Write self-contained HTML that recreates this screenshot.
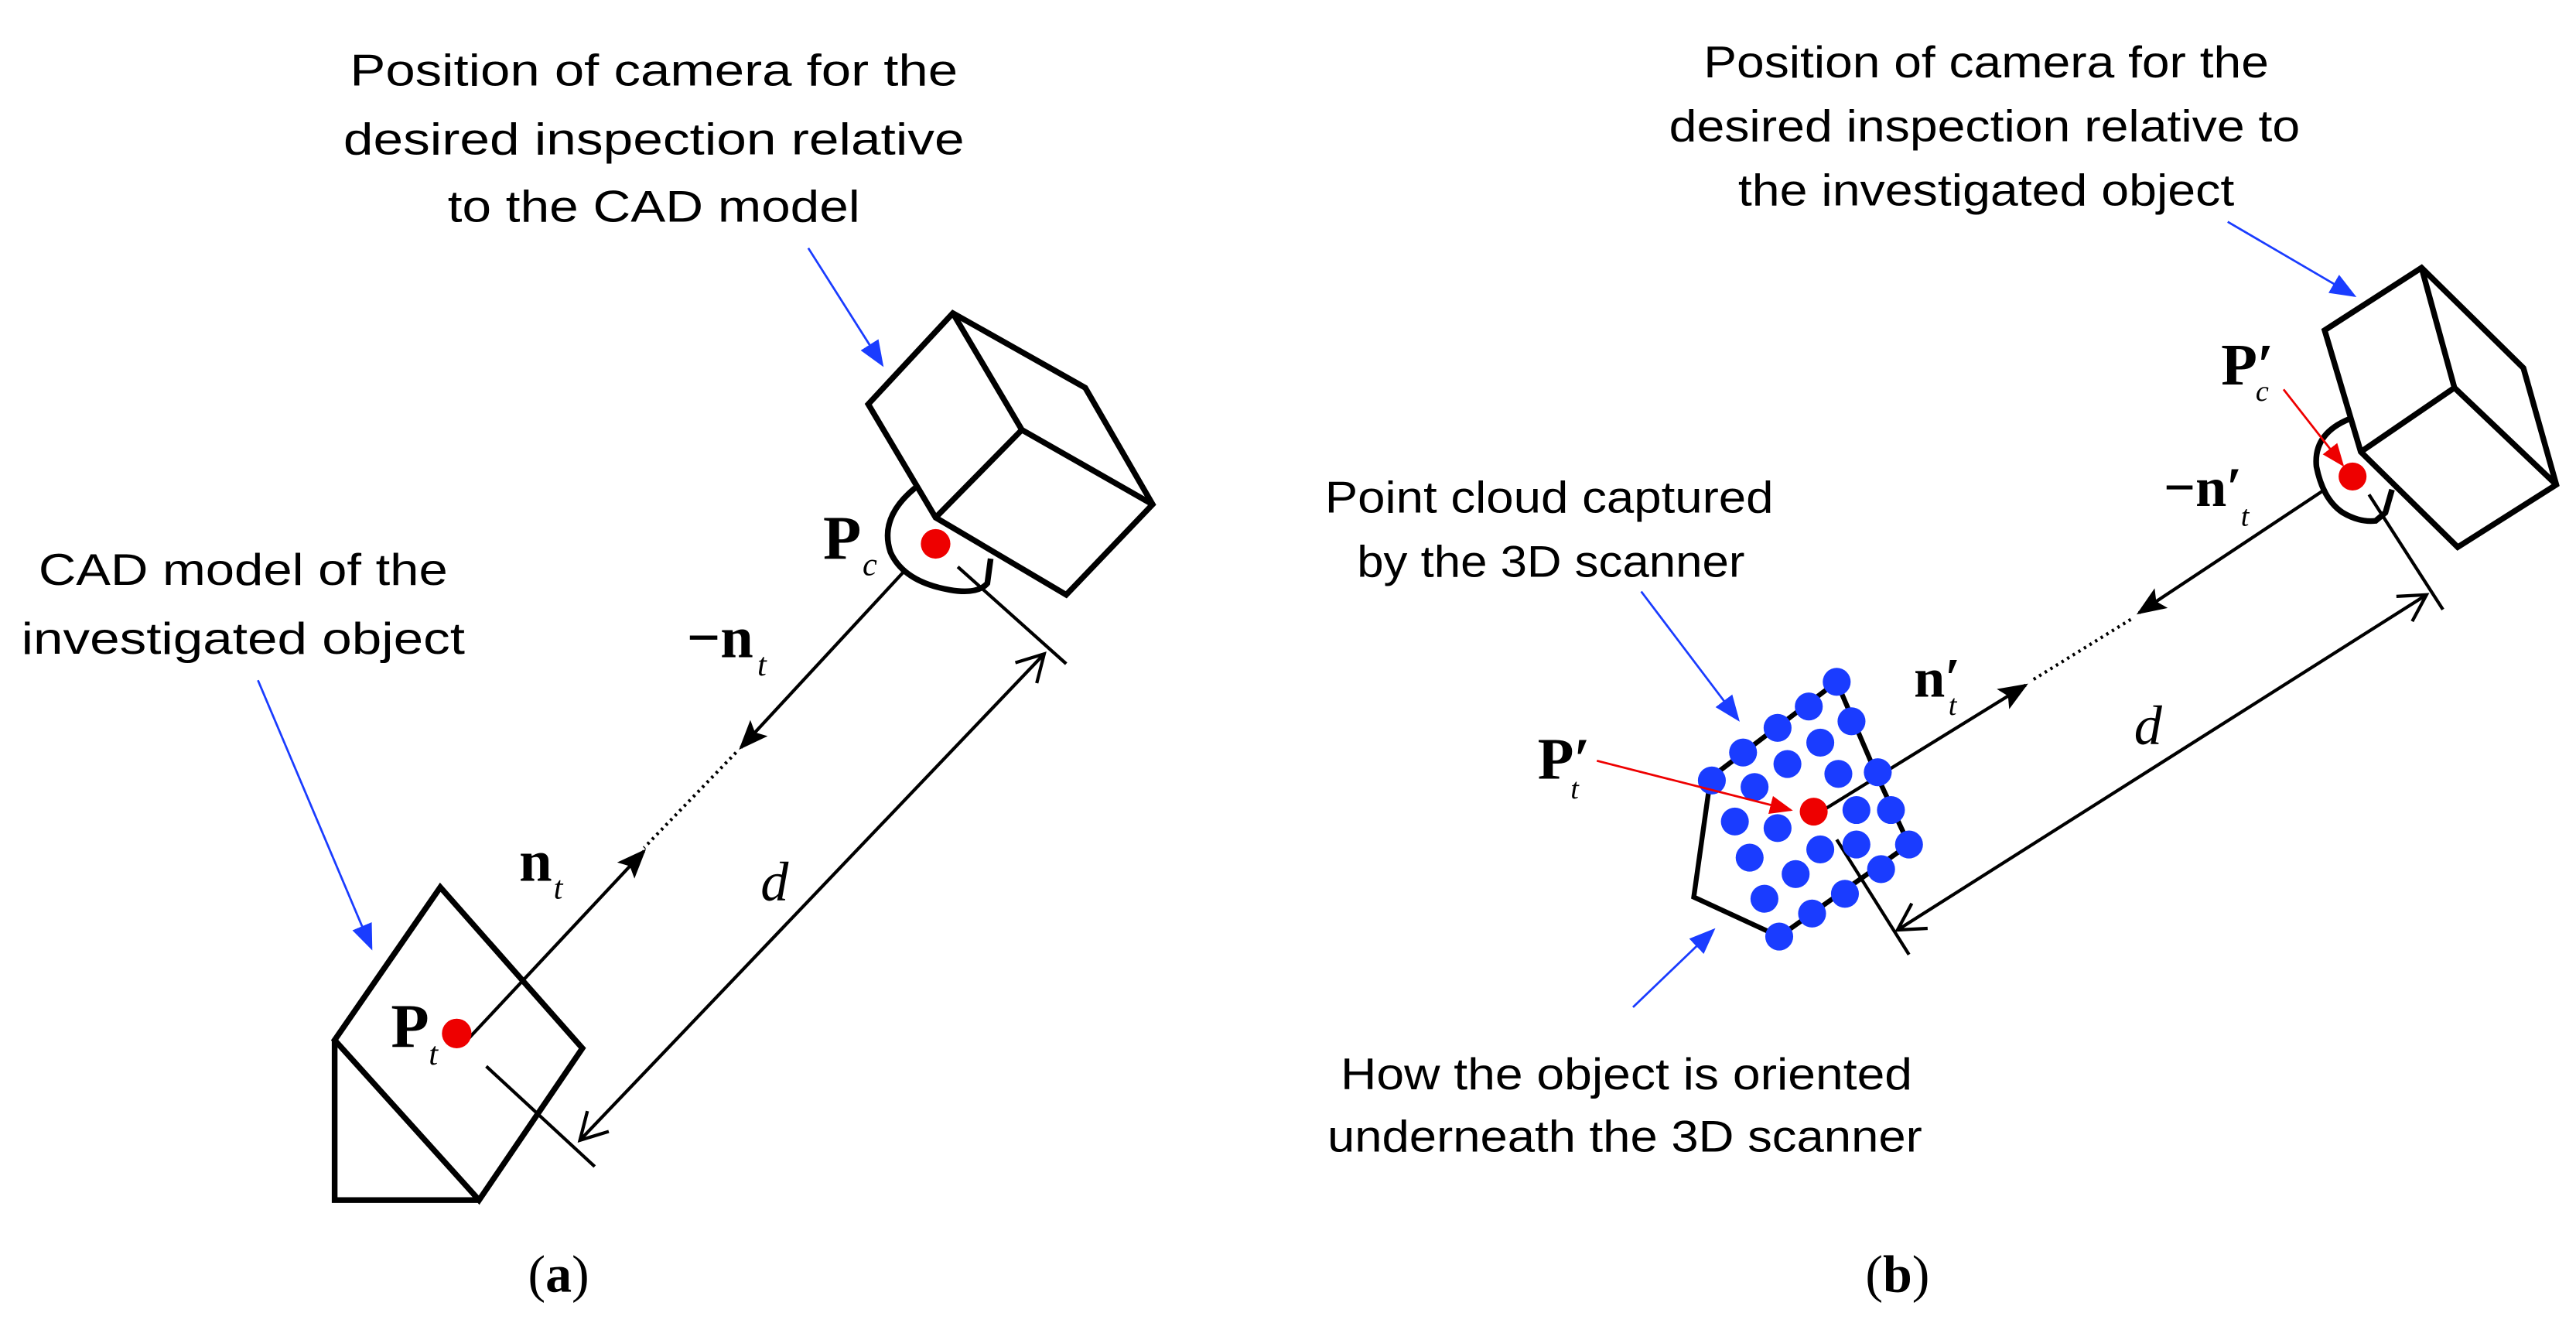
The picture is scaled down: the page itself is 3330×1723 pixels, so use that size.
<!DOCTYPE html>
<html><head><meta charset="utf-8"><style>
html,body{margin:0;padding:0;background:#fff;}
svg{display:block;}
.t{font-family:"Liberation Sans",sans-serif;font-size:27px;fill:#000;}
.s{font-family:"Liberation Serif",serif;fill:#000;}
</style></head><body>
<svg width="3330" height="1723" viewBox="0 0 1568 811.3" preserveAspectRatio="none" xmlns="http://www.w3.org/2000/svg">
<defs>
<marker id="fa2" viewBox="0 0 10 10" refX="9" refY="5" markerWidth="18" markerHeight="18" markerUnits="userSpaceOnUse" orient="auto"><path d="M0,1 L10,5 L0,9 L2,5 z" fill="#000"/></marker>
<marker id="oa" viewBox="0 0 10 10" refX="9" refY="5" markerWidth="20" markerHeight="20" markerUnits="userSpaceOnUse" orient="auto-start-reverse"><path d="M1,0.5 L9,5 L1,9.5" fill="none" stroke="#000" stroke-width="1"/></marker>
<marker id="ba" viewBox="0 0 10 10" refX="9" refY="5" markerWidth="16" markerHeight="16" markerUnits="userSpaceOnUse" orient="auto"><path d="M0,1 L10,5 L0,9 z" fill="#1a3cff"/></marker>
<marker id="ra" viewBox="0 0 10 10" refX="9" refY="5" markerWidth="14" markerHeight="14" markerUnits="userSpaceOnUse" orient="auto"><path d="M0,1 L10,5 L0,9 z" fill="#e00"/></marker>
</defs>

<text class="t" x="398" y="52" text-anchor="middle" textLength="370" lengthAdjust="spacingAndGlyphs">Position of camera for the</text>
<text class="t" x="398" y="94" text-anchor="middle" textLength="378" lengthAdjust="spacingAndGlyphs">desired inspection relative</text>
<text class="t" x="398" y="135" text-anchor="middle" textLength="251" lengthAdjust="spacingAndGlyphs">to the CAD model</text>
<text class="t" x="148" y="356" text-anchor="middle" textLength="249" lengthAdjust="spacingAndGlyphs">CAD model of the</text>
<text class="t" x="148" y="398" text-anchor="middle" textLength="270" lengthAdjust="spacingAndGlyphs">investigated object</text>

<line x1="492" y1="151" x2="537" y2="222" stroke="#1a3cff" stroke-width="1.3" marker-end="url(#ba)"/>
<line x1="157" y1="414" x2="226" y2="577" stroke="#1a3cff" stroke-width="1.3" marker-end="url(#ba)"/>

<g fill="none" stroke="#000" stroke-width="3.5" stroke-linejoin="miter">
<polygon points="528.5,246 569.5,315 649,362 701.6,307 660.6,236 580,190.6"/>
<polyline points="580,190.6 622,261.6 701.6,307"/>
<line x1="622" y1="261.6" x2="569.5" y2="315"/>
<path d="M557,297 Q535,315 542,336 Q550,354 578,359 Q595,362 601,355 L603,340"/>
</g>
<circle cx="569.5" cy="331" r="9" fill="#e00"/>
<text class="s" x="501" y="340" font-size="38" font-weight="bold">P</text>
<text class="s" x="525" y="350" font-size="20" font-style="italic">c</text>

<line x1="551" y1="347" x2="451" y2="455" stroke="#000" stroke-width="2" marker-end="url(#fa2)"/>
<line x1="448" y1="458" x2="392" y2="516" stroke="#000" stroke-width="2" stroke-dasharray="1.5,2.5"/>
<line x1="282.5" y1="635" x2="392" y2="518" stroke="#000" stroke-width="2" marker-end="url(#fa2)"/>
<text class="s" x="418" y="400" font-size="36" font-weight="bold">−n</text>
<text class="s" x="461" y="411" font-size="20" font-style="italic">t</text>
<text class="s" x="316" y="536" font-size="36" font-weight="bold">n</text>
<text class="s" x="337" y="547" font-size="20" font-style="italic">t</text>

<line x1="583" y1="345" x2="649" y2="404" stroke="#000" stroke-width="2"/>
<line x1="296" y1="649" x2="362" y2="710" stroke="#000" stroke-width="2"/>
<line x1="353" y1="694" x2="635.6" y2="398" stroke="#000" stroke-width="2" marker-start="url(#oa)" marker-end="url(#oa)"/>
<text class="s" x="463" y="548" font-size="34" font-style="italic">d</text>

<g fill="none" stroke="#000" stroke-width="3.5">
<polygon points="268,540 354.5,638 291.6,730.4 203.7,633"/>
<polyline points="203.7,633 203.7,730.4 291.6,730.4"/>
</g>
<circle cx="278" cy="629" r="9" fill="#e00"/>
<text class="s" x="238" y="637" font-size="38" font-weight="bold">P</text>
<text class="s" x="261" y="648" font-size="20" font-style="italic">t</text>

<text class="s" x="340" y="786" font-size="32" text-anchor="middle">(<tspan font-weight="bold">a</tspan>)</text>

<text class="t" x="1209" y="47" text-anchor="middle" textLength="344" lengthAdjust="spacingAndGlyphs">Position of camera for the</text>
<text class="t" x="1208" y="86" text-anchor="middle" textLength="384" lengthAdjust="spacingAndGlyphs">desired inspection relative to</text>
<text class="t" x="1209" y="125" text-anchor="middle" textLength="302" lengthAdjust="spacingAndGlyphs">the investigated object</text>
<text class="t" x="943" y="312" text-anchor="middle" textLength="273" lengthAdjust="spacingAndGlyphs">Point cloud captured</text>
<text class="t" x="944" y="351" text-anchor="middle" textLength="236" lengthAdjust="spacingAndGlyphs">by the 3D scanner</text>
<text class="t" x="990" y="663" text-anchor="middle" textLength="348" lengthAdjust="spacingAndGlyphs">How the object is oriented</text>
<text class="t" x="989" y="701" text-anchor="middle" textLength="362" lengthAdjust="spacingAndGlyphs">underneath the 3D scanner</text>

<line x1="1356" y1="135" x2="1433" y2="180" stroke="#1a3cff" stroke-width="1.3" marker-end="url(#ba)"/>
<line x1="999" y1="360" x2="1058" y2="438" stroke="#1a3cff" stroke-width="1.3" marker-end="url(#ba)"/>
<line x1="994" y1="613" x2="1043" y2="566" stroke="#1a3cff" stroke-width="1.3" marker-end="url(#ba)"/>

<g fill="none" stroke="#000" stroke-width="3.5">
<polygon points="1415,201 1437,275 1496,333 1556,295 1536,224 1474,163"/>
<polyline points="1474,163 1494,236 1556,295"/>
<line x1="1494" y1="236" x2="1437" y2="275"/>
<path d="M1430,255 Q1408,264 1410,284 Q1414,304 1426,312 Q1436,318 1446,317 L1452,312 L1456,298"/>
</g>
<circle cx="1432" cy="290" r="8.5" fill="#e00"/>
<line x1="1390" y1="237" x2="1426" y2="283" stroke="#e00" stroke-width="1.3" marker-end="url(#ra)"/>
<text class="s" x="1352" y="234" font-size="36" font-weight="bold">P′</text>
<text class="s" x="1373" y="244" font-size="18" font-style="italic">c</text>

<line x1="1415" y1="298" x2="1302" y2="373" stroke="#000" stroke-width="2" marker-end="url(#fa2)"/>
<line x1="1297" y1="377" x2="1237" y2="414" stroke="#000" stroke-width="2" stroke-dasharray="1.5,2.5"/>
<line x1="1105" y1="496" x2="1233" y2="417" stroke="#000" stroke-width="2" marker-end="url(#fa2)"/>
<text class="s" x="1317" y="308" font-size="34" font-weight="bold">−n′</text>
<text class="s" x="1364" y="320" font-size="18" font-style="italic">t</text>
<text class="s" x="1165" y="424" font-size="34" font-weight="bold">n′</text>
<text class="s" x="1186" y="435" font-size="18" font-style="italic">t</text>

<line x1="1442" y1="301" x2="1487" y2="371" stroke="#000" stroke-width="2"/>
<line x1="1118" y1="511" x2="1162" y2="581" stroke="#000" stroke-width="2"/>
<line x1="1155" y1="566" x2="1477" y2="362" stroke="#000" stroke-width="2" marker-start="url(#oa)" marker-end="url(#oa)"/>
<text class="s" x="1299" y="453" font-size="34" font-style="italic">d</text>

<polyline points="1039,475 1118,415 1142,471 1162,514 1083,570 1031,546 1040,482" fill="none" stroke="#000" stroke-width="3"/>
<g fill="#1a3cff">
<circle cx="1118" cy="415" r="8.5"/><circle cx="1101" cy="430" r="8.5"/><circle cx="1127" cy="439" r="8.5"/>
<circle cx="1082" cy="443" r="8.5"/><circle cx="1108" cy="452" r="8.5"/><circle cx="1061" cy="458" r="8.5"/>
<circle cx="1088" cy="465" r="8.5"/><circle cx="1119" cy="471" r="8.5"/><circle cx="1143" cy="470" r="8.5"/>
<circle cx="1042" cy="475" r="8.5"/><circle cx="1068" cy="479" r="8.5"/><circle cx="1130" cy="493" r="8.5"/>
<circle cx="1151" cy="493" r="8.5"/><circle cx="1056" cy="500" r="8.5"/><circle cx="1082" cy="504" r="8.5"/>
<circle cx="1108" cy="517" r="8.5"/><circle cx="1130" cy="514" r="8.5"/><circle cx="1162" cy="514" r="8.5"/>
<circle cx="1065" cy="522" r="8.5"/><circle cx="1093" cy="532" r="8.5"/><circle cx="1145" cy="529" r="8.5"/>
<circle cx="1074" cy="547" r="8.5"/><circle cx="1123" cy="544" r="8.5"/><circle cx="1103" cy="556" r="8.5"/>
<circle cx="1083" cy="570" r="8.5"/>
</g>
<circle cx="1104" cy="494" r="8.5" fill="#e00"/>
<line x1="972" y1="463" x2="1090" y2="493" stroke="#e00" stroke-width="1.3" marker-end="url(#ra)"/>
<text class="s" x="936" y="474" font-size="36" font-weight="bold">P′</text>
<text class="s" x="956" y="486" font-size="18" font-style="italic">t</text>

<text class="s" x="1155" y="786" font-size="32" text-anchor="middle">(<tspan font-weight="bold">b</tspan>)</text>
</svg>
</body></html>
